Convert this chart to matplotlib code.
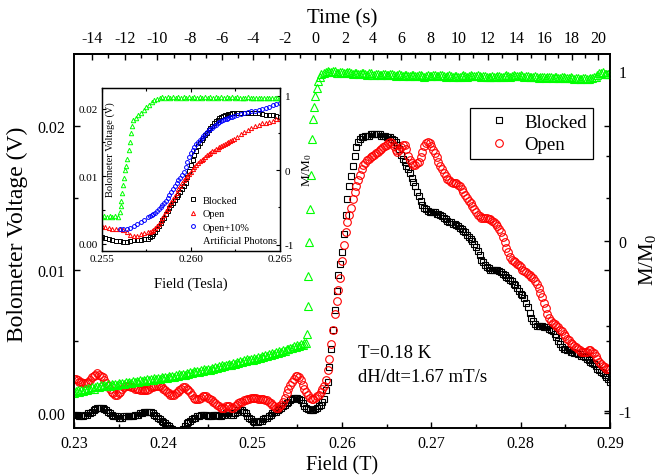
import matplotlib
matplotlib.use('Agg')
import matplotlib.pyplot as plt
from matplotlib.lines import Line2D

plt.rcParams['font.family'] = ['Liberation Serif', 'DejaVu Serif']
plt.rcParams['mathtext.fontset'] = 'custom'
plt.rcParams['mathtext.rm'] = 'Liberation Serif'
plt.rcParams['mathtext.it'] = 'Liberation Serif:italic'
plt.rcParams['axes.unicode_minus'] = False

# ---------------- main panel data ----------------
# sampling grid of the field sweep (T)
field_grid = [
    0.2300, 0.2302, 0.2304, 0.2306, 0.2308, 0.2310, 0.2312, 0.2314, 0.2316, 0.2318,
    0.2320, 0.2322, 0.2324, 0.2326, 0.2328, 0.2330, 0.2332, 0.2334, 0.2336, 0.2338,
    0.2340, 0.2342, 0.2344, 0.2346, 0.2348, 0.2350, 0.2352, 0.2354, 0.2356, 0.2358,
    0.2360, 0.2362, 0.2364, 0.2366, 0.2368, 0.2370, 0.2372, 0.2374, 0.2376, 0.2378,
    0.2380, 0.2382, 0.2384, 0.2386, 0.2388, 0.2390, 0.2392, 0.2394, 0.2396, 0.2398,
    0.2400, 0.2402, 0.2404, 0.2406, 0.2408, 0.2410, 0.2412, 0.2414, 0.2416, 0.2418,
    0.2420, 0.2422, 0.2424, 0.2426, 0.2428, 0.2430, 0.2432, 0.2434, 0.2436, 0.2438,
    0.2440, 0.2442, 0.2444, 0.2446, 0.2448, 0.2450, 0.2452, 0.2454, 0.2456, 0.2458,
    0.2460, 0.2462, 0.2464, 0.2466, 0.2468, 0.2470, 0.2472, 0.2474, 0.2476, 0.2478,
    0.2480, 0.2482, 0.2484, 0.2486, 0.2488, 0.2490, 0.2492, 0.2494, 0.2496, 0.2498,
    0.2500, 0.2502, 0.2504, 0.2506, 0.2508, 0.2510, 0.2512, 0.2514, 0.2516, 0.2518,
    0.2520, 0.2522, 0.2524, 0.2526, 0.2528, 0.2530, 0.2532, 0.2534, 0.2536, 0.2538,
    0.2540, 0.2542, 0.2544, 0.2546, 0.2548, 0.2550, 0.2552, 0.2554, 0.2556, 0.2558,
    0.2560, 0.2562, 0.2564, 0.2566, 0.2568, 0.2570, 0.2572, 0.2574, 0.2576, 0.2578,
    0.2580, 0.2582, 0.2584, 0.2586, 0.2588, 0.2590, 0.2592, 0.2594, 0.2596, 0.2598,
    0.2600, 0.2602, 0.2604, 0.2606, 0.2608, 0.2610, 0.2612, 0.2614, 0.2616, 0.2618,
    0.2620, 0.2622, 0.2624, 0.2626, 0.2628, 0.2630, 0.2632, 0.2634, 0.2636, 0.2638,
    0.2640, 0.2642, 0.2644, 0.2646, 0.2648, 0.2650, 0.2652, 0.2654, 0.2656, 0.2658,
    0.2660, 0.2662, 0.2664, 0.2666, 0.2668, 0.2670, 0.2672, 0.2674, 0.2676, 0.2678,
    0.2680, 0.2682, 0.2684, 0.2686, 0.2688, 0.2690, 0.2692, 0.2694, 0.2696, 0.2698,
    0.2700, 0.2702, 0.2704, 0.2706, 0.2708, 0.2710, 0.2712, 0.2714, 0.2716, 0.2718,
    0.2720, 0.2722, 0.2724, 0.2726, 0.2728, 0.2730, 0.2732, 0.2734, 0.2736, 0.2738,
    0.2740, 0.2742, 0.2744, 0.2746, 0.2748, 0.2750, 0.2752, 0.2754, 0.2756, 0.2758,
    0.2760, 0.2762, 0.2764, 0.2766, 0.2768, 0.2770, 0.2772, 0.2774, 0.2776, 0.2778,
    0.2780, 0.2782, 0.2784, 0.2786, 0.2788, 0.2790, 0.2792, 0.2794, 0.2796, 0.2798,
    0.2800, 0.2802, 0.2804, 0.2806, 0.2808, 0.2810, 0.2812, 0.2814, 0.2816, 0.2818,
    0.2820, 0.2822, 0.2824, 0.2826, 0.2828, 0.2830, 0.2832, 0.2834, 0.2836, 0.2838,
    0.2840, 0.2842, 0.2844, 0.2846, 0.2848, 0.2850, 0.2852, 0.2854, 0.2856, 0.2858,
    0.2860, 0.2862, 0.2864, 0.2866, 0.2868, 0.2870, 0.2872, 0.2874, 0.2876, 0.2878,
    0.2880, 0.2882, 0.2884, 0.2886, 0.2888, 0.2890, 0.2892, 0.2894, 0.2896, 0.2898,
    0.2900]

blocked_V = [
    -0.0001, -0.0001, -0.0001, -0.0002, -0.0002, -0.0002, -0.0001, -0.0001, 0.0000, 0.0000,
    0.0001, 0.0002, 0.0003, 0.0004, 0.0004, 0.0004, 0.0004, 0.0003, 0.0002, 0.0001,
    0.0000, -0.0001, -0.0002, -0.0002, -0.0002, -0.0003, -0.0003, -0.0003, -0.0002, -0.0002,
    -0.0002, -0.0002, -0.0002, -0.0002, -0.0001, -0.0001, -0.0001, 0.0000, 0.0000, 0.0001,
    0.0001, 0.0001, 0.0001, 0.0001, 0.0000, -0.0001, -0.0002, -0.0003, -0.0004, -0.0005,
    -0.0006, -0.0007, -0.0008, -0.0009, -0.0010, -0.0011, -0.0012, -0.0013, -0.0013, -0.0013,
    -0.0012, -0.0011, -0.0009, -0.0007, -0.0006, -0.0005, -0.0004, -0.0003, -0.0003, -0.0002,
    -0.0002, -0.0001, -0.0001, -0.0001, -0.0001, -0.0002, -0.0002, -0.0002, -0.0001, -0.0001,
    -0.0001, -0.0002, -0.0002, -0.0001, -0.0001, 0.0000, 0.0000, 0.0000, -0.0001, -0.0001,
    0.0000, 0.0001, 0.0002, 0.0002, 0.0002, 0.0001, 0.0000, -0.0002, -0.0003, -0.0004,
    -0.0005, -0.0006, -0.0006, -0.0006, -0.0005, -0.0005, -0.0004, -0.0003, -0.0003, -0.0002,
    -0.0001, 0.0000, 0.0001, 0.0001, 0.0002, 0.0003, 0.0004, 0.0005, 0.0006, 0.0007,
    0.0008, 0.0009, 0.0010, 0.0011, 0.0011, 0.0011, 0.0010, 0.0009, 0.0007, 0.0005,
    0.0004, 0.0003, 0.0002, 0.0002, 0.0002, 0.0003, 0.0004, 0.0005, 0.0006, 0.0008,
    0.0010, 0.0016, 0.0022, 0.0032, 0.0045, 0.0058, 0.0072, 0.0085, 0.0096, 0.0104,
    0.0112, 0.0125, 0.0138, 0.0149, 0.0158, 0.0165, 0.0172, 0.0179, 0.0185, 0.0189,
    0.0191, 0.0192, 0.0192, 0.0193, 0.0193, 0.0193, 0.0194, 0.0194, 0.0194, 0.0194,
    0.0194, 0.0194, 0.0193, 0.0193, 0.0193, 0.0192, 0.0192, 0.0192, 0.0191, 0.0190,
    0.0189, 0.0187, 0.0184, 0.0180, 0.0177, 0.0175, 0.0172, 0.0170, 0.0167, 0.0164,
    0.0161, 0.0158, 0.0154, 0.0151, 0.0148, 0.0145, 0.0143, 0.0142, 0.0141, 0.0140,
    0.0140, 0.0140, 0.0140, 0.0139, 0.0139, 0.0138, 0.0137, 0.0136, 0.0135, 0.0134,
    0.0133, 0.0133, 0.0132, 0.0132, 0.0131, 0.0130, 0.0129, 0.0128, 0.0127, 0.0126,
    0.0124, 0.0123, 0.0121, 0.0120, 0.0118, 0.0116, 0.0113, 0.0110, 0.0107, 0.0105,
    0.0103, 0.0102, 0.0101, 0.0100, 0.0100, 0.0100, 0.0100, 0.0100, 0.0099, 0.0098,
    0.0097, 0.0096, 0.0095, 0.0094, 0.0093, 0.0092, 0.0090, 0.0089, 0.0087, 0.0085,
    0.0083, 0.0082, 0.0080, 0.0077, 0.0074, 0.0070, 0.0066, 0.0064, 0.0062, 0.0061,
    0.0061, 0.0061, 0.0061, 0.0060, 0.0060, 0.0060, 0.0059, 0.0058, 0.0057, 0.0055,
    0.0053, 0.0050, 0.0048, 0.0046, 0.0045, 0.0045, 0.0044, 0.0044, 0.0043, 0.0043,
    0.0042, 0.0042, 0.0041, 0.0041, 0.0040, 0.0040, 0.0039, 0.0038, 0.0037, 0.0036,
    0.0035, 0.0034, 0.0033, 0.0031, 0.0030, 0.0029, 0.0028, 0.0027, 0.0025, 0.0024,
    0.0022]

open_V = [
    0.0024, 0.0024, 0.0023, 0.0022, 0.0022, 0.0021, 0.0021, 0.0021, 0.0022, 0.0023,
    0.0025, 0.0026, 0.0027, 0.0028, 0.0027, 0.0026, 0.0025, 0.0023, 0.0021, 0.0019,
    0.0017, 0.0015, 0.0014, 0.0013, 0.0013, 0.0014, 0.0015, 0.0017, 0.0018, 0.0019,
    0.0019, 0.0019, 0.0018, 0.0018, 0.0017, 0.0017, 0.0017, 0.0016, 0.0016, 0.0016,
    0.0016, 0.0016, 0.0017, 0.0018, 0.0018, 0.0019, 0.0019, 0.0019, 0.0019, 0.0018,
    0.0017, 0.0016, 0.0015, 0.0014, 0.0013, 0.0013, 0.0013, 0.0014, 0.0015, 0.0016,
    0.0017, 0.0018, 0.0018, 0.0017, 0.0016, 0.0015, 0.0013, 0.0011, 0.0010, 0.0010,
    0.0010, 0.0011, 0.0012, 0.0012, 0.0012, 0.0011, 0.0010, 0.0009, 0.0008, 0.0007,
    0.0006, 0.0005, 0.0004, 0.0004, 0.0004, 0.0005, 0.0005, 0.0005, 0.0004, 0.0004,
    0.0005, 0.0006, 0.0007, 0.0008, 0.0008, 0.0009, 0.0009, 0.0010, 0.0010, 0.0011,
    0.0011, 0.0011, 0.0011, 0.0010, 0.0010, 0.0010, 0.0010, 0.0009, 0.0009, 0.0008,
    0.0007, 0.0006, 0.0005, 0.0004, 0.0004, 0.0005, 0.0006, 0.0008, 0.0011, 0.0014,
    0.0017, 0.0020, 0.0022, 0.0024, 0.0026, 0.0026, 0.0025, 0.0023, 0.0020, 0.0017,
    0.0015, 0.0013, 0.0011, 0.0010, 0.0010, 0.0011, 0.0012, 0.0013, 0.0015, 0.0017,
    0.0019, 0.0023, 0.0030, 0.0038, 0.0048, 0.0058, 0.0069, 0.0078, 0.0086, 0.0094,
    0.0106, 0.0117, 0.0126, 0.0133, 0.0138, 0.0143, 0.0149, 0.0154, 0.0158, 0.0162,
    0.0166, 0.0170, 0.0173, 0.0174, 0.0176, 0.0177, 0.0178, 0.0179, 0.0180, 0.0181,
    0.0182, 0.0183, 0.0184, 0.0185, 0.0186, 0.0187, 0.0188, 0.0189, 0.0188, 0.0186,
    0.0183, 0.0182, 0.0183, 0.0185, 0.0187, 0.0187, 0.0184, 0.0179, 0.0176, 0.0174,
    0.0173, 0.0173, 0.0174, 0.0175, 0.0178, 0.0182, 0.0186, 0.0188, 0.0189, 0.0188,
    0.0186, 0.0183, 0.0181, 0.0178, 0.0175, 0.0172, 0.0170, 0.0167, 0.0165, 0.0163,
    0.0162, 0.0161, 0.0160, 0.0160, 0.0160, 0.0159, 0.0158, 0.0156, 0.0154, 0.0152,
    0.0150, 0.0148, 0.0146, 0.0144, 0.0142, 0.0140, 0.0138, 0.0137, 0.0136, 0.0136,
    0.0136, 0.0136, 0.0135, 0.0135, 0.0134, 0.0133, 0.0132, 0.0130, 0.0128, 0.0126,
    0.0123, 0.0119, 0.0115, 0.0112, 0.0109, 0.0107, 0.0106, 0.0105, 0.0104, 0.0103,
    0.0102, 0.0100, 0.0099, 0.0098, 0.0097, 0.0096, 0.0095, 0.0094, 0.0092, 0.0090,
    0.0087, 0.0084, 0.0081, 0.0077, 0.0073, 0.0069, 0.0066, 0.0064, 0.0063, 0.0062,
    0.0061, 0.0060, 0.0058, 0.0057, 0.0055, 0.0054, 0.0052, 0.0051, 0.0049, 0.0048,
    0.0047, 0.0046, 0.0045, 0.0044, 0.0043, 0.0043, 0.0043, 0.0043, 0.0044, 0.0044,
    0.0043, 0.0042, 0.0040, 0.0038, 0.0036, 0.0034, 0.0033, 0.0032, 0.0031, 0.0031,
    0.0031]

# M/M0 (right axis): branch before the reversal, on field_grid up to 0.2560 T
m_low = [
    -0.893, -0.884, -0.880, -0.888, -0.876, -0.882, -0.870, -0.878, -0.868, -0.874,
    -0.862, -0.870, -0.860, -0.853, -0.860, -0.850, -0.857, -0.847, -0.854, -0.845,
    -0.852, -0.842, -0.849, -0.840, -0.846, -0.837, -0.843, -0.834, -0.840, -0.831,
    -0.838, -0.829, -0.835, -0.826, -0.832, -0.823, -0.829, -0.820, -0.826, -0.817,
    -0.823, -0.814, -0.820, -0.811, -0.817, -0.808, -0.814, -0.805, -0.811, -0.802,
    -0.808, -0.799, -0.805, -0.796, -0.802, -0.793, -0.799, -0.789, -0.795, -0.785,
    -0.791, -0.781, -0.787, -0.777, -0.783, -0.773, -0.779, -0.769, -0.775, -0.765,
    -0.771, -0.761, -0.767, -0.757, -0.763, -0.752, -0.758, -0.748, -0.753, -0.743,
    -0.748, -0.738, -0.743, -0.733, -0.738, -0.728, -0.733, -0.723, -0.728, -0.718,
    -0.723, -0.713, -0.718, -0.708, -0.713, -0.703, -0.708, -0.698, -0.703, -0.694,
    -0.699, -0.689, -0.694, -0.684, -0.689, -0.679, -0.684, -0.674, -0.679, -0.669,
    -0.673, -0.663, -0.667, -0.656, -0.660, -0.649, -0.653, -0.642, -0.646, -0.635,
    -0.639, -0.628, -0.632, -0.621, -0.625, -0.614, -0.618, -0.607, -0.611, -0.600,
    -0.604]
# the reversal itself (sparse points)
m_rise_field = [0.25610, 0.25615, 0.25625, 0.25635, 0.25645, 0.25655, 0.25668,
                0.25680, 0.25690, 0.25700, 0.25715, 0.25730, 0.25750, 0.25770]
m_rise = [-0.548, -0.381, -0.204, -0.008, 0.189, 0.385, 0.600,
          0.720, 0.790, 0.850, 0.900, 0.940, 0.965, 0.980]
# saturated branch, on field_grid from 0.2580 T
m_high = [
    0.990, 0.996, 1.000, 0.994, 0.992, 0.999, 0.998, 0.990, 0.988, 0.995,
    0.996, 0.989, 0.986, 0.993, 0.993, 0.986, 0.983, 0.990, 0.990, 0.984,
    0.981, 0.988, 0.988, 0.981, 0.979, 0.986, 0.986, 0.979, 0.977, 0.984,
    0.984, 0.978, 0.976, 0.983, 0.983, 0.977, 0.975, 0.982, 0.982, 0.975,
    0.973, 0.979, 0.980, 0.974, 0.971, 0.977, 0.978, 0.972, 0.969, 0.976,
    0.976, 0.970, 0.968, 0.974, 0.975, 0.969, 0.967, 0.973, 0.975, 0.970,
    0.968, 0.975, 0.978, 0.972, 0.970, 0.976, 0.977, 0.971, 0.967, 0.972,
    0.974, 0.968, 0.965, 0.970, 0.972, 0.967, 0.964, 0.971, 0.974, 0.969,
    0.967, 0.973, 0.977, 0.971, 0.968, 0.973, 0.975, 0.968, 0.964, 0.968,
    0.970, 0.965, 0.962, 0.967, 0.970, 0.965, 0.962, 0.968, 0.972, 0.967,
    0.964, 0.970, 0.974, 0.969, 0.967, 0.973, 0.976, 0.971, 0.968, 0.972,
    0.974, 0.968, 0.965, 0.970, 0.972, 0.966, 0.962, 0.967, 0.969, 0.963,
    0.960, 0.965, 0.967, 0.962, 0.959, 0.964, 0.967, 0.962, 0.958, 0.963,
    0.965, 0.960, 0.957, 0.962, 0.964, 0.959, 0.956, 0.960, 0.962, 0.957,
    0.954, 0.958, 0.960, 0.955, 0.952, 0.956, 0.958, 0.954, 0.952, 0.957,
    0.960, 0.963, 0.967, 0.978, 0.987, 0.991, 0.992, 0.985, 0.980, 0.982,
    0.984]

field_ticks = [0.23, 0.24, 0.25, 0.26, 0.27, 0.28, 0.29]
field_tick_labels = ['0.23', '0.24', '0.25', '0.26', '0.27', '0.28', '0.29']
volt_ticks = [0.00, 0.01, 0.02]
volt_tick_labels = ['0.00', '0.01', '0.02']
m_ticks = [-1, 0, 1]
m_tick_labels = ['-1', '0', '1']
time_ticks = [-14, -12, -10, -8, -6, -4, -2, 0, 2, 4, 6, 8, 10, 12, 14, 16, 18, 20]
time_tick_field = [0.23198, 0.23571, 0.23932, 0.24299, 0.24660, 0.25009, 0.25362,
                   0.25703, 0.26034, 0.26347, 0.26660, 0.26985, 0.27310, 0.27634,
                   0.27959, 0.28272, 0.28575, 0.28866]

# ---------------- inset data ----------------
in_field = [
    0.2550, 0.2552, 0.2554, 0.2556, 0.2558, 0.2560, 0.2562, 0.2564, 0.2566, 0.2568,
    0.2570, 0.2572, 0.2574, 0.2576,
    0.2577, 0.2578, 0.2579, 0.2580, 0.2581, 0.2582, 0.2583, 0.2584, 0.2585, 0.2586,
    0.2587, 0.2588, 0.2589, 0.2590, 0.2591, 0.2592, 0.2593, 0.2594, 0.2595, 0.2596,
    0.2597, 0.2598, 0.2599, 0.2600, 0.2601, 0.2602, 0.2603, 0.2604, 0.2605, 0.2606,
    0.2607, 0.2608, 0.2609, 0.2610, 0.2611, 0.2612, 0.2613, 0.2614, 0.2615, 0.2616,
    0.2617, 0.2618, 0.2619, 0.2620, 0.2621, 0.2622, 0.2623, 0.2624,
    0.2626, 0.2628, 0.2630, 0.2632, 0.2634, 0.2636, 0.2638, 0.2640, 0.2642, 0.2644,
    0.2646, 0.2648, 0.2650]
in_blocked_V = [
    0.0010, 0.0009, 0.0007, 0.0006, 0.0005, 0.0004, 0.0003, 0.0003, 0.0004, 0.0006,
    0.0006, 0.0006, 0.0007, 0.0008,
    0.0010, 0.0012, 0.0015, 0.0018, 0.0022, 0.0026, 0.0031, 0.0035, 0.0039, 0.0044,
    0.0049, 0.0053, 0.0057, 0.0061, 0.0065, 0.0069, 0.0073, 0.0077, 0.0081, 0.0085,
    0.0090, 0.0099, 0.0108, 0.0117, 0.0124, 0.0131, 0.0138, 0.0144, 0.0149, 0.0153,
    0.0157, 0.0161, 0.0164, 0.0168, 0.0171, 0.0175, 0.0178, 0.0181, 0.0183, 0.0186,
    0.0188, 0.0189, 0.0190, 0.0191, 0.0192, 0.0192, 0.0193, 0.0193,
    0.0194, 0.0194, 0.0194, 0.0194, 0.0193, 0.0193, 0.0193, 0.0192, 0.0191, 0.0190,
    0.0190, 0.0189, 0.0188]
in_open_V = [
    0.0026, 0.0025, 0.0023, 0.0022, 0.0022, 0.0022, 0.0021, 0.0017, 0.0013, 0.0011,
    0.0012, 0.0014, 0.0016, 0.0017,
    0.0018, 0.0019, 0.0021, 0.0023, 0.0026, 0.0030, 0.0034, 0.0038, 0.0043, 0.0048,
    0.0052, 0.0057, 0.0062, 0.0067, 0.0071, 0.0076, 0.0081, 0.0086, 0.0090, 0.0094,
    0.0098, 0.0101, 0.0104, 0.0107, 0.0110, 0.0113, 0.0116, 0.0119, 0.0122, 0.0124,
    0.0126, 0.0129, 0.0131, 0.0133, 0.0135, 0.0137, 0.0138, 0.0140, 0.0141, 0.0143,
    0.0144, 0.0146, 0.0147, 0.0149, 0.0150, 0.0152, 0.0153, 0.0155,
    0.0158, 0.0162, 0.0165, 0.0168, 0.0172, 0.0174, 0.0176, 0.0178, 0.0179, 0.0180,
    0.0182, 0.0184, 0.0185]
in_photon_V = [
    0.0022, 0.0022, 0.0022, 0.0023, 0.0026, 0.0029, 0.0032, 0.0036, 0.0040,
    0.0042, 0.0043, 0.0044, 0.0046, 0.0048, 0.0051, 0.0054, 0.0058, 0.0061, 0.0064,
    0.0068, 0.0072, 0.0077, 0.0081, 0.0086, 0.0090, 0.0094, 0.0098, 0.0102, 0.0107,
    0.0114, 0.0121, 0.0128, 0.0135, 0.0139, 0.0143, 0.0147, 0.0151, 0.0154, 0.0157,
    0.0159, 0.0162, 0.0165, 0.0168, 0.0170, 0.0172, 0.0174, 0.0176, 0.0178, 0.0180,
    0.0181, 0.0183, 0.0184, 0.0185, 0.0186, 0.0187, 0.0188, 0.0189,
    0.0191, 0.0192, 0.0193, 0.0195, 0.0196, 0.0197, 0.0198, 0.0200, 0.0201, 0.0203,
    0.0205, 0.0207, 0.0209]
in_m_field = [
    0.25500, 0.25515, 0.25530, 0.25545, 0.25560, 0.25575, 0.25590,
    0.25600, 0.25606, 0.25611, 0.25616, 0.25621, 0.25626, 0.25631, 0.25636, 0.25644, 0.25653,
    0.25659, 0.25666, 0.25672, 0.25677, 0.25690, 0.25705, 0.25720, 0.25735, 0.25750, 0.25765,
    0.25780, 0.25795, 0.25810,
    0.25825, 0.25840, 0.25855, 0.25870, 0.25885, 0.25900, 0.25915, 0.25930, 0.25945, 0.25960,
    0.25975, 0.25990, 0.26005, 0.26020, 0.26035, 0.26050, 0.26065, 0.26080, 0.26095, 0.26110,
    0.26125, 0.26140, 0.26155, 0.26170, 0.26185, 0.26200, 0.26215, 0.26230, 0.26245, 0.26260,
    0.26275, 0.26290, 0.26305, 0.26320, 0.26335, 0.26350, 0.26365, 0.26380, 0.26395, 0.26410,
    0.26425, 0.26440, 0.26455, 0.26470, 0.26485, 0.26500]
in_m_ratio = [
    -0.625, -0.615, -0.628, -0.618, -0.626, -0.616, -0.622,
    -0.560, -0.480, -0.410, -0.310, -0.200, -0.100, 0.000, 0.060, 0.157, 0.268,
    0.380, 0.500, 0.600, 0.670, 0.700, 0.740, 0.775, 0.810, 0.845, 0.880,
    0.915, 0.940, 0.955,
    0.972, 0.980, 0.975, 0.982, 0.974, 0.979, 0.971, 0.978, 0.973, 0.981,
    0.976, 0.983, 0.975, 0.980, 0.972, 0.979, 0.974, 0.982, 0.976, 0.980,
    0.973, 0.978, 0.971, 0.977, 0.972, 0.979, 0.974, 0.980, 0.973, 0.977,
    0.970, 0.976, 0.971, 0.977, 0.969, 0.975, 0.970, 0.976, 0.968, 0.974,
    0.967, 0.973, 0.966, 0.972, 0.965, 0.970]
in_field_ticks = [0.255, 0.260, 0.265]
in_field_tick_labels = ['0.255', '0.260', '0.265']

# assemble M/M0 series
m_field = field_grid[:len(m_low)] + m_rise_field + field_grid[len(field_grid) - len(m_high):]
m_ratio = m_low + m_rise + m_high
in_photon_field = in_field[len(in_field) - len(in_photon_V):]

GREEN = '#00ff00'
RED = '#ff0000'
BLUE = '#0000ff'

fig = plt.figure(figsize=(6.58, 4.77), dpi=100)
ax = fig.add_axes([0.11246, 0.10126, 0.81459, 0.78344])
ax2 = ax.twinx()

l_b, = ax.plot(field_grid, blocked_V, ls='none', marker='s', ms=4.6, mfc='none',
               mec='black', mew=0.8)
l_o, = ax.plot(field_grid, open_V, ls='none', marker='o', ms=5.5, mfc='none',
               mec=RED, mew=0.8)
ax2.plot(m_field, m_ratio, ls='none', marker='^', ms=5.8, mfc='none', mec=GREEN, mew=0.8)

ax.set_xlim(0.23, 0.29)
ax.set_ylim(-0.001, 0.025)
ax2.set_ylim(-1.1, 1.1)

ax.set_xticks(field_ticks, labels=field_tick_labels)
ax.set_xticks([0.235, 0.245, 0.255, 0.265, 0.275, 0.285], minor=True)
ax.set_yticks(volt_ticks, labels=volt_tick_labels)
ax.set_yticks([0.005, 0.015], minor=True)
ax2.set_yticks(m_ticks, labels=m_tick_labels)
ax2.set_yticks([-0.5, 0.5], minor=True)

ax.tick_params(which='major', direction='in', length=4.5, width=1.0, labelsize=11.5)
ax.tick_params(which='minor', direction='in', length=2.6, width=1.0)
ax.tick_params(axis='x', which='both', top=False, pad=5)
ax.tick_params(axis='y', which='both', right=True, pad=6)
ax2.tick_params(which='major', direction='in', length=4.5, width=1.0, labelsize=11.5, pad=6)
ax2.tick_params(which='minor', direction='in', length=2.6, width=1.0)

sec = ax.secondary_xaxis('top')
sec.set_xticks(time_tick_field, labels=[str(t) for t in time_ticks])
mids = [(a + b) / 2 for a, b in zip(time_tick_field[:-1], time_tick_field[1:])]
sec.set_xticks(mids, minor=True)
sec.tick_params(which='major', direction='in', length=4.5, width=1.0, labelsize=11.5, pad=6)
sec.tick_params(which='minor', direction='in', length=2.6, width=1.0)

for a in (ax, ax2, sec):
    for s in a.spines.values():
        s.set_linewidth(1.2)

ax.set_xlabel('Field (T)', fontsize=14.5)
ax.xaxis.set_label_coords(0.5, -0.075)
ax.set_ylabel('Bolometer Voltage (V)', fontsize=17)
ax.yaxis.set_label_coords(-0.085, 0.52)
ax2.set_ylabel('M/M$_0$', fontsize=15)
ax2.yaxis.set_label_coords(1.05, 0.45)
sec.set_xlabel('Time (s)', fontsize=15, labelpad=5)

ax.text(0.53, 0.2018, 'T=0.18 K', transform=ax.transAxes, fontsize=13.5, va='center', ha='left')
ax.text(0.53, 0.1375, 'dH/dt=1.67 mT/s', transform=ax.transAxes, fontsize=13.5, va='center', ha='left')

leg = ax2.legend([l_b, l_o], ['Blocked', 'Open'], loc='upper left', bbox_to_anchor=(0.739, 0.8555),
                 frameon=True, fancybox=False, edgecolor='black', framealpha=1, fontsize=13.5,
                 handlelength=2.5, handletextpad=0.1, borderpad=0.3, labelspacing=0.3,
                 borderaxespad=0)
leg.get_frame().set_linewidth(0.9)

# ---------------- inset ----------------
axi = fig.add_axes([0.15456, 0.47233, 0.27097, 0.34046])
axi2 = axi.twinx()
ib, = axi.plot(in_field, in_blocked_V, ls='none', marker='s', ms=2.8, mfc='none', mec='black', mew=0.7)
io, = axi.plot(in_field, in_open_V, ls='none', marker='^', ms=3.0, mfc='none', mec=RED, mew=0.7)
ip, = axi.plot(in_photon_field, in_photon_V, ls='none', marker='o', ms=2.8, mfc='none', mec=BLUE, mew=0.7)
axi2.plot(in_m_field, in_m_ratio, ls='none', marker='^', ms=3.2, mfc='none', mec=GREEN, mew=0.7)

axi.set_xlim(0.255, 0.265)
axi.set_ylim(-0.001, 0.023)
axi2.set_ylim(-1.08, 1.10)
axi.set_xticks(in_field_ticks, labels=in_field_tick_labels)
axi.set_xticks([0.2575, 0.2625], minor=True)
axi.set_yticks(volt_ticks, labels=volt_tick_labels)
axi.set_yticks([0.005, 0.015], minor=True)
axi2.set_yticks(m_ticks, labels=m_tick_labels)
axi2.set_yticks([-0.5, 0.5], minor=True)
axi.tick_params(which='major', direction='in', length=3.2, width=0.8, labelsize=8, pad=2.5, top=True)
axi.tick_params(which='minor', direction='in', length=1.8, width=0.8, top=True)
axi2.tick_params(which='major', direction='in', length=3.2, width=0.8, labelsize=8, pad=3.5)
axi2.tick_params(which='minor', direction='in', length=1.8, width=0.8)
for a in (axi, axi2):
    for s in a.spines.values():
        s.set_linewidth(0.9)

axi.set_xlabel('Field (Tesla)', fontsize=10.5)
axi.xaxis.set_label_coords(0.5, -0.16)
axi.set_ylabel('Bolometer Voltage (V)', fontsize=7.5)
axi.yaxis.set_label_coords(0.075, 0.63)
axi2.set_ylabel('M/M$_0$', fontsize=9.5)
axi2.yaxis.set_label_coords(1.115, 0.5)

blank = Line2D([], [], ls='none')
ileg = axi2.legend([ib, io, ip, blank], ['Blocked', 'Open', 'Open+10%', 'Artificial Photons'],
                   loc='upper left', bbox_to_anchor=(0.49, 0.34), frameon=False, fontsize=7.5,
                   handlelength=0.8, handletextpad=0.5, borderpad=0, labelspacing=0.4,
                   borderaxespad=0)

fig.savefig('out.png', dpi=100)
